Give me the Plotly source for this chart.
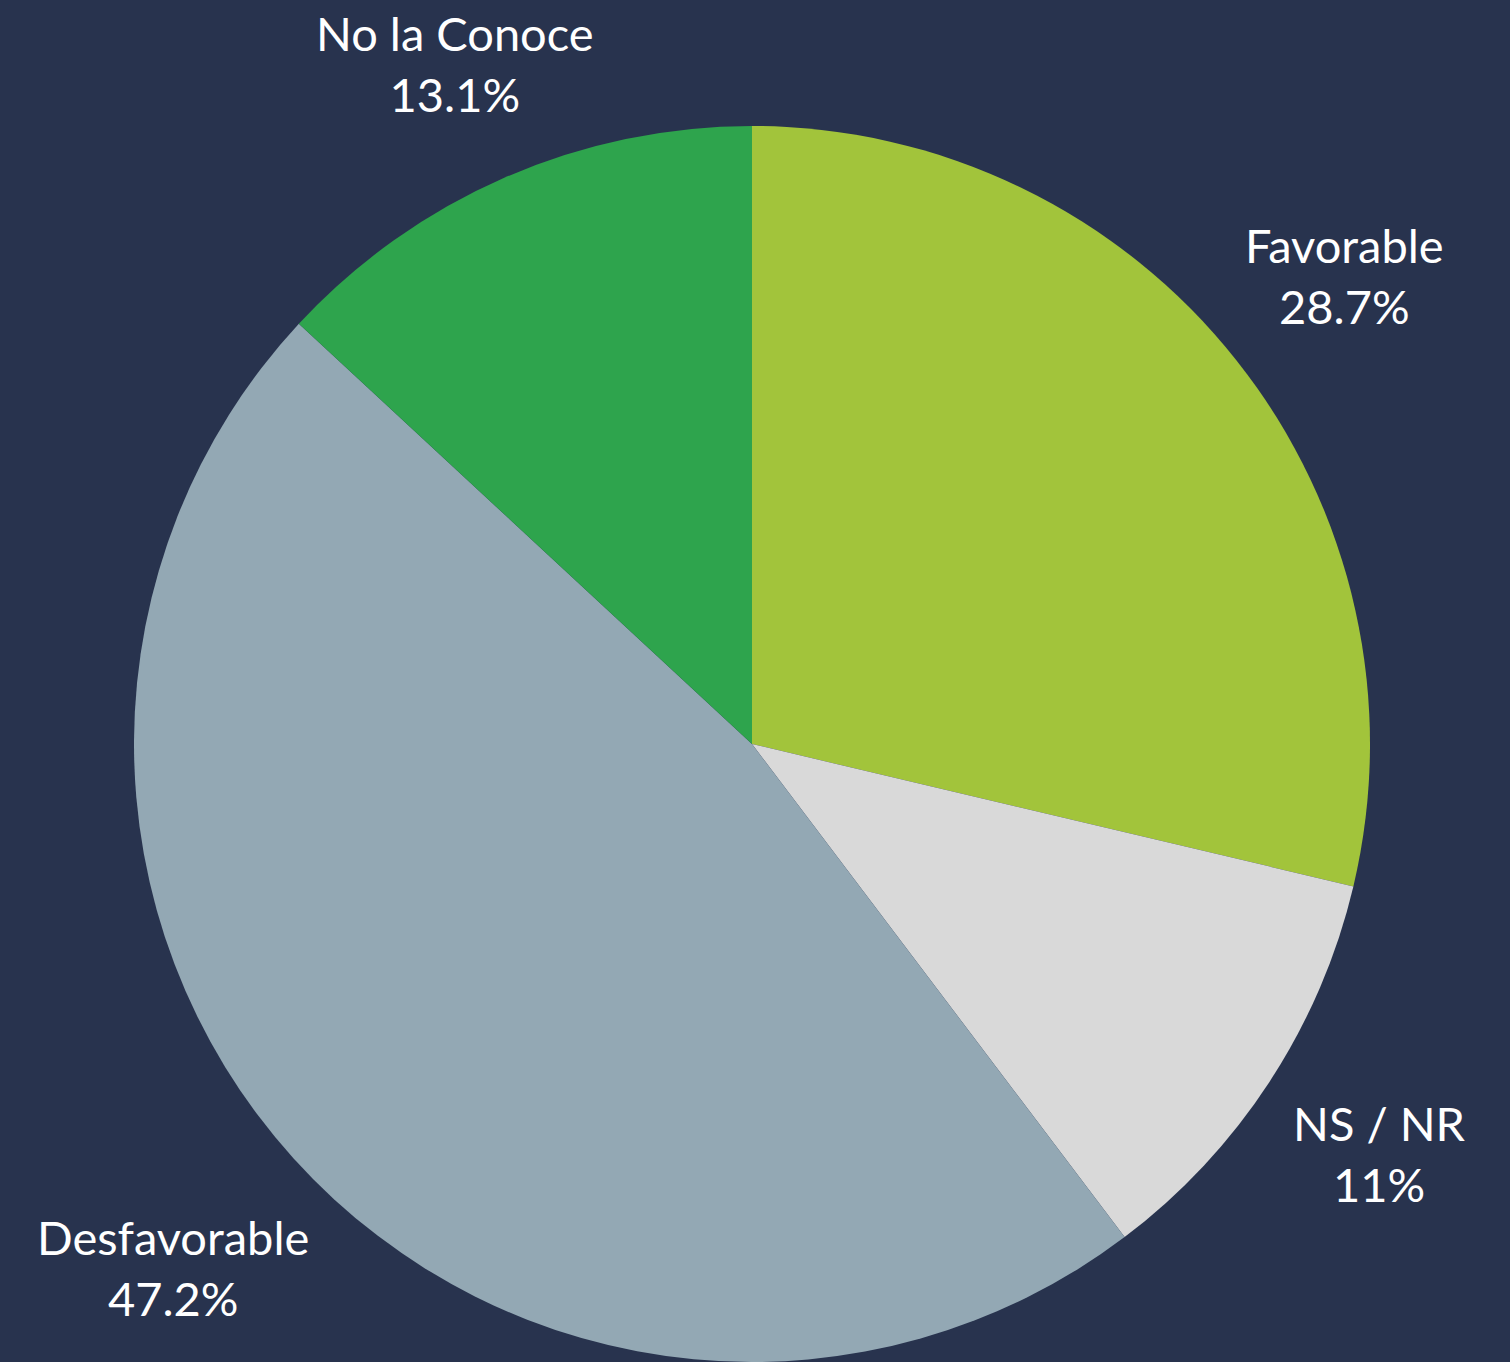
import math
import plotly.graph_objects as go

labels = ["Favorable", "NS / NR", "Desfavorable", "No la Conoce"]
values = [28.7, 11.0, 47.2, 13.1]
pct_text = ["28.7%", "11%", "47.2%", "13.1%"]
colors = ["#a2c43b", "#d9d9d9", "#93a8b4", "#2ea44d"]

W, H = 1510, 1362
BG = "#28334e"
cx, cy, R = 752, 744, 618
label_dist = [1.21, 1.20, 1.25, 1.19]

fig = go.Figure(go.Pie(
    labels=labels, values=values, sort=False, direction="clockwise",
    rotation=0, textinfo="none", hoverinfo="label+percent",
    marker=dict(colors=colors, line=dict(width=0)),
    domain=dict(x=[(cx - R) / W, (cx + R) / W], y=[0, 2 * R / H]),
    showlegend=False,
))

total = sum(values)
cum = 0.0
for lab, v, t, d in zip(labels, values, pct_text, label_dist):
    mid = (cum + v / 2) / total * 2 * math.pi
    cum += v
    px = cx + d * 624 * math.sin(mid)
    py = cy - d * 624 * math.cos(mid)
    fig.add_annotation(
        x=px / W, y=1 - py / H, xref="paper", yref="paper",
        text=f"{lab}<br>{t}", showarrow=False, xanchor="center", yanchor="middle",
        font=dict(family="Lato", size=47, color="white"),
    )

fig.update_layout(
    width=W, height=H, margin=dict(l=0, r=0, t=0, b=0),
    paper_bgcolor=BG, plot_bgcolor=BG,
)
fig.write_html(
    "out.html",
    config={"displayModeBar": False},
    post_script="document.body.style.margin='0';document.body.style.background='" + BG + "';",
)
